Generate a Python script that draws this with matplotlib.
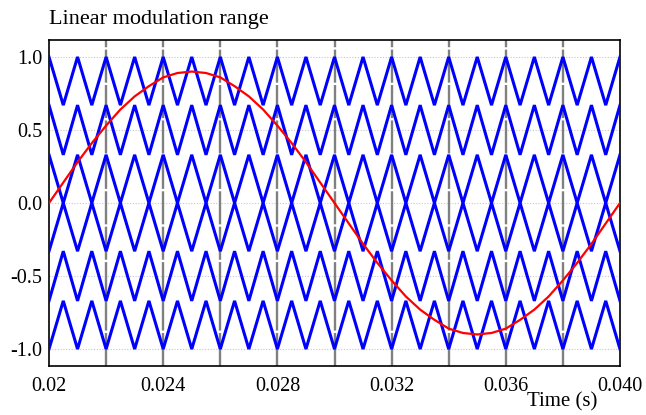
import matplotlib
matplotlib.use("Agg")
import matplotlib.pyplot as plt

# ---- data ----
# carrier vertex times (s): triangle carriers, 1 kHz
carrier_time = [0.0200, 0.0205, 0.0210, 0.0215, 0.0220, 0.0225, 0.0230, 0.0235,
                0.0240, 0.0245, 0.0250, 0.0255, 0.0260, 0.0265, 0.0270, 0.0275,
                0.0280, 0.0285, 0.0290, 0.0295, 0.0300, 0.0305, 0.0310, 0.0315,
                0.0320, 0.0325, 0.0330, 0.0335, 0.0340, 0.0345, 0.0350, 0.0355,
                0.0360, 0.0365, 0.0370, 0.0375, 0.0380, 0.0385, 0.0390, 0.0395,
                0.0400]
# level-shifted carriers: (value at even vertices, value at odd vertices)
carrier_even = [1.00, 0.67, 0.33, -0.33, -0.67, -1.00]
carrier_odd = [0.67, 0.33, 0.00, 0.00, -0.33, -0.67]

# reference (modulating) signal, sampled every 0.5 ms
ref_time = carrier_time
ref_value = [0.00, 0.14, 0.28, 0.41, 0.53, 0.64, 0.73, 0.80, 0.86, 0.89,
             0.90, 0.89, 0.86, 0.80, 0.73, 0.64, 0.53, 0.41, 0.28, 0.14,
             0.00, -0.14, -0.28, -0.41, -0.53, -0.64, -0.73, -0.80, -0.86, -0.89,
             -0.90, -0.89, -0.86, -0.80, -0.73, -0.64, -0.53, -0.41, -0.28, -0.14,
             0.00]

xticks = [0.020, 0.024, 0.028, 0.032, 0.036, 0.040]
xtick_labels = ["0.02", "0.024", "0.028", "0.032", "0.036", "0.040"]
vgrid = [0.022, 0.024, 0.026, 0.028, 0.030, 0.032, 0.034, 0.036, 0.038]
yticks = [1.0, 0.5, 0.0, -0.5, -1.0]
ytick_labels = ["1.0", "0.5", "0.0", "-0.5", "-1.0"]

# ---- plot ----
plt.rcParams['font.family'] = ['Liberation Serif', 'DejaVu Serif']
fig = plt.figure(figsize=(6.46, 4.15), dpi=100)
ax = fig.add_axes([49/646, 1-366/415, (620-49)/646, (366-40)/415])

for yv in yticks:
    ax.axhline(yv, color='#c8c8c8', lw=0.8, ls=(0, (1, 1.5)), zorder=1)
for xv in vgrid:
    ax.axvline(xv, color='#808080', lw=1.7, ls=(0, (14, 1.0)), zorder=1)

for ev, od in zip(carrier_even, carrier_odd):
    vals = [ev if i % 2 == 0 else od for i in range(len(carrier_time))]
    ax.plot(carrier_time, vals, color='#0000ff', lw=2.2, zorder=3,
            solid_joinstyle='miter')

ax.plot(ref_time, ref_value, color='#ff0000', lw=1.6, zorder=4)

ax.set_xlim(0.020, 0.040)
ax.set_ylim(-1.116, 1.116)
ax.set_xticks(xticks)
ax.set_xticklabels(xtick_labels)
ax.set_yticks(yticks)
ax.set_yticklabels(ytick_labels)
ax.tick_params(length=0, labelsize=14.5, colors='black')
ax.tick_params(axis='x', pad=8)
ax.tick_params(axis='y', pad=5)
for s in ax.spines.values():
    s.set_linewidth(1.2)
    s.set_color('black')

fig.text(49/646, 1-24/415, "Linear modulation range", fontsize=16,
         ha='left', va='baseline')
fig.text(562/646, 1-402/415, "Time (s)", fontsize=15, ha='center', va='center')

fig.savefig("out.png", dpi=100)
